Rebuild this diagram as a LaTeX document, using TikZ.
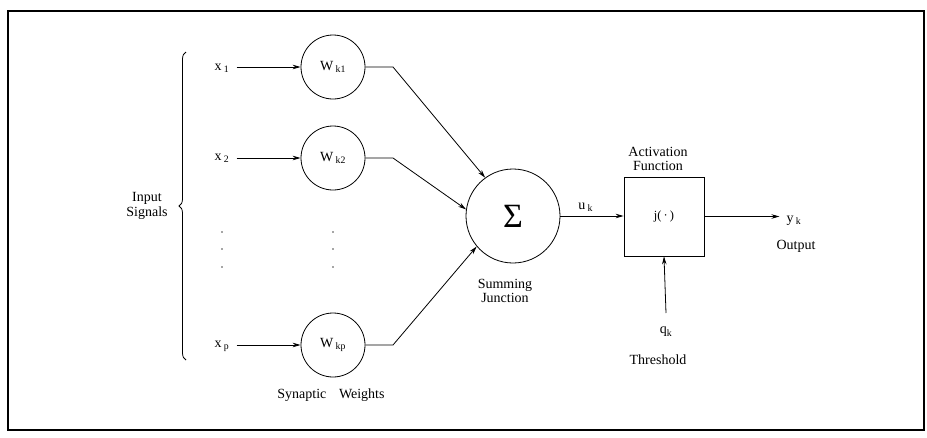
\documentclass[tikz,border=0pt]{standalone}
\usepackage{fontspec}
\setmainfont{Liberation Serif}
\usetikzlibrary{arrows.meta,decorations.pathreplacing}
\tikzset{
  lbl/.style={inner sep=1pt, font=\fontsize{14}{14.5}\selectfont, align=center},
  wc/.style={draw, circle, line width=0.8pt, minimum size=64pt, inner sep=0pt, font=\fontsize{14}{14}\selectfont},
  arr/.style={line width=0.8pt, -{Stealth[length=8pt,width=4.5pt]}},
  dotmark/.style={circle, fill=black!70, inner sep=0pt, minimum size=1.6pt}
}
\begin{document}
\begin{tikzpicture}[x=1pt,y=-1pt]
\useasboundingbox (0,0) rectangle (927,437);
\fill[white] (0,0) rectangle (927,437);
\node[draw, line width=1.3pt, minimum width=916pt, minimum height=419pt, inner sep=0pt] (frame) at (466,220.5) {};

% brace and label
\coordinate (bb) at (186,360);
\coordinate (bt) at (186,52);
\draw[line width=0.8pt, decorate, decoration={brace, amplitude=7pt}] (bb) -- (bt);
\node[lbl] (insig) at (147,206) {Input\\Signals};

% inputs
\node[lbl] (x1) at (222,68) {x\,\textsubscript{1}};
\node[lbl] (x2) at (222,158) {x\,\textsubscript{2}};
\node[lbl] (xp) at (222,346) {x\,\textsubscript{p}};

% weights
\node[wc] (w1) at (333,67) {W\,\textsubscript{k1}};
\node[wc] (w2) at (333,158) {W\,\textsubscript{k2}};
\node[wc] (wp) at (333,345) {W\,\textsubscript{kp}};
\node[lbl] (syn) at (331,395) {Synaptic\hspace{0.9em}Weights};

% dots
\foreach \yy [count=\i] in {232,249,267} {
  \node[dotmark] (dx\i) at (222,\yy) {};
  \node[dotmark] (dw\i) at (333,\yy) {};
}

% summing junction
\node[draw, circle, line width=0.8pt, minimum size=94pt, inner sep=0pt] (sum) at (513,216) {\fontsize{34}{34}\selectfont Σ};
\node[lbl] (sumlbl) at (505,291) {Summing\\Junction};

% activation box
\node[draw, line width=0.8pt, minimum width=80pt, minimum height=79pt, inner sep=0pt] (box) at (664,216.5) {\fontsize{12.5}{13}\selectfont j(\,·\,)};
\node[lbl] (act) at (658,159) {Activation\\Function};

% output
\node[lbl] (yk) at (794,221) {y\,\textsubscript{k}};
\node[lbl] (outl) at (796,246) {Output};

% threshold
\node[lbl] (qk) at (666,332) {q\textsubscript{k}};
\node[lbl] (thr) at (658,360) {Threshold};
\coordinate (qs) at (666,313);

% bends
\coordinate (b1) at (393,67);
\coordinate (b2) at (393,158);
\coordinate (bp) at (393,345);

% connectors
\draw[arr, shorten <=6pt] (x1.east |- w1) -- (w1);
\draw[arr, shorten <=6pt] (x2.east |- w2) -- (w2);
\draw[arr, shorten <=6pt] (xp.east |- wp) -- (wp);
\draw[arr] (w1.east) -- (b1) -- (sum.126);
\draw[arr] (w2.east) -- (b2) -- (sum.172);
\draw[arr] (wp.east) -- (bp) -- (sum.220);
\draw[arr] (sum.east) -- node[lbl, above=3pt, pos=0.4] (uk) {u\,\textsubscript{k}} (sum.east -| box.west);
\draw[arr] (box.east) -- ([xshift=-6pt]box.east -| yk.west);
\draw[arr] (qs) -- (box.south);
\end{tikzpicture}
\end{document}
